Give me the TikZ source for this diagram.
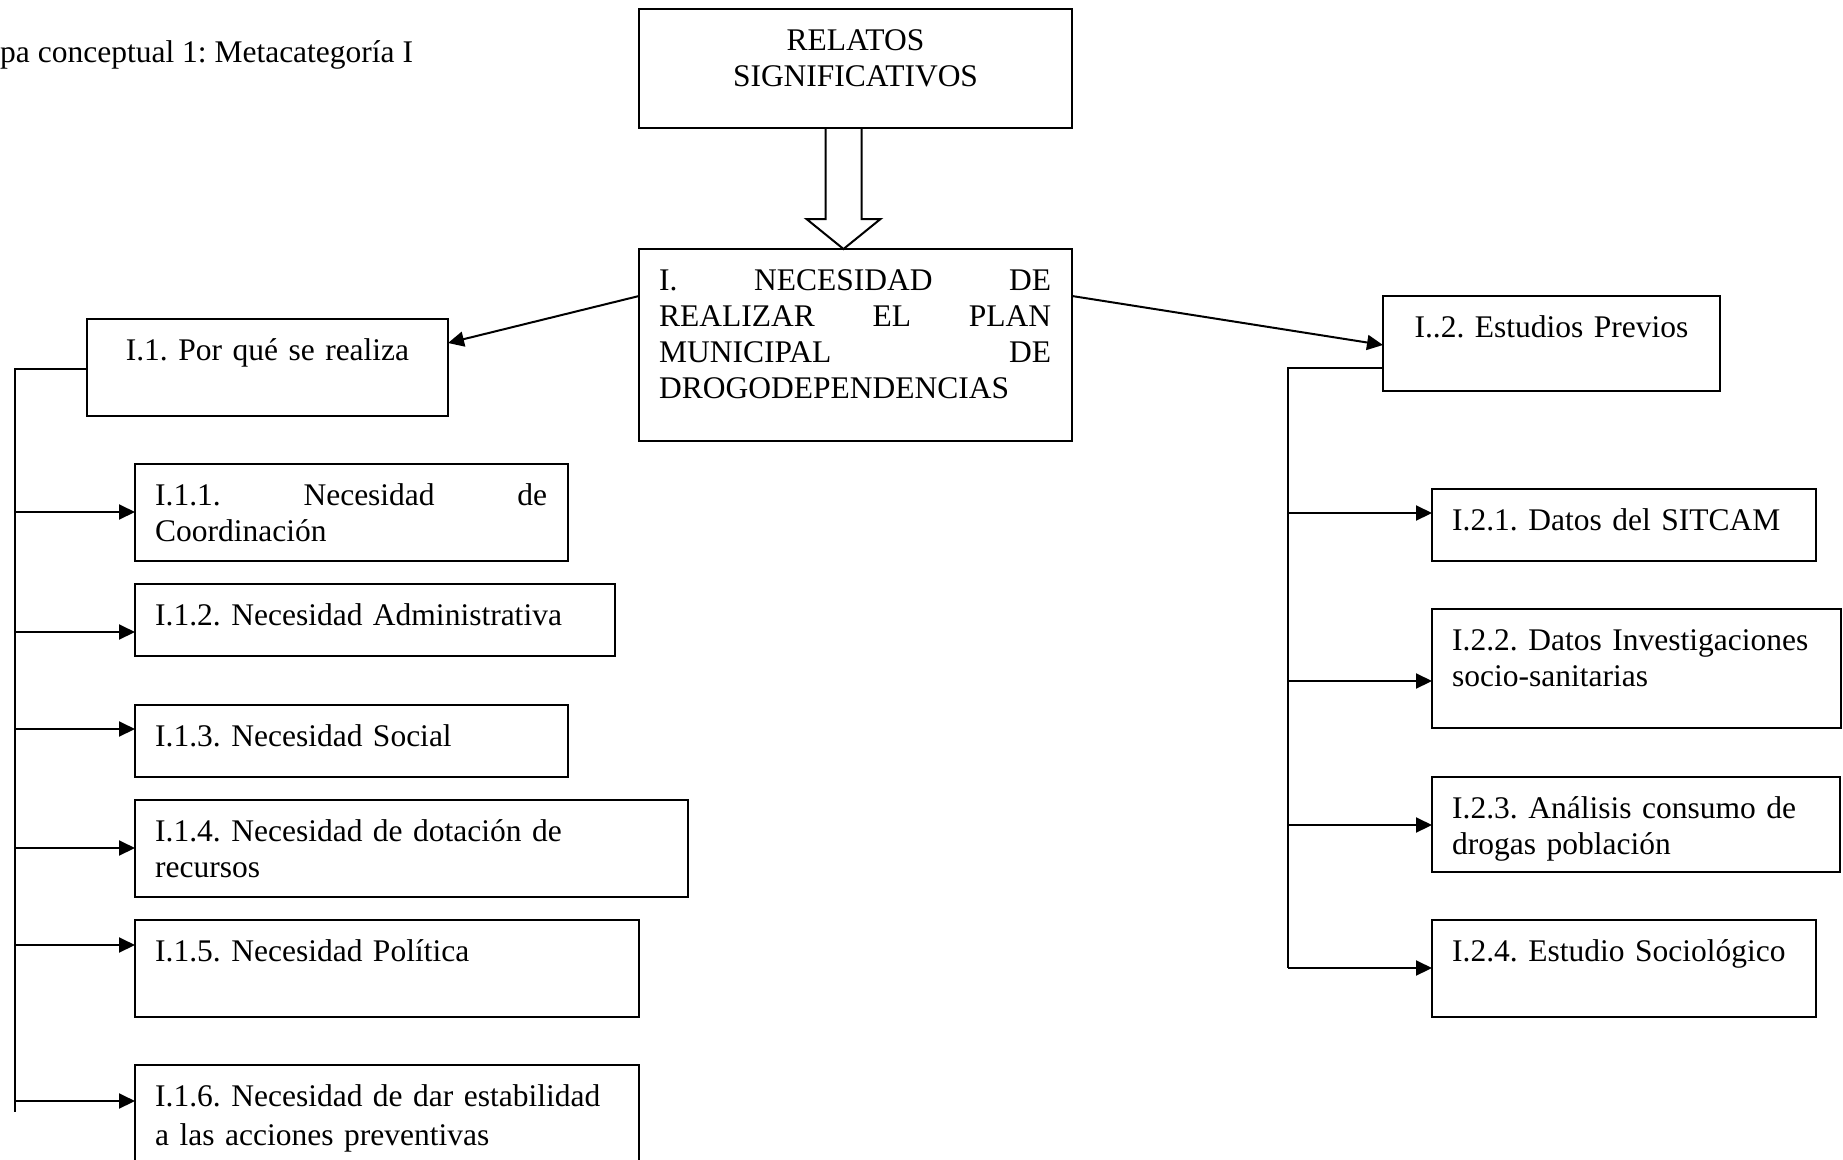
\documentclass[tikz,border=0pt]{standalone}
\usepackage{fontspec}
\setmainfont{Liberation Serif}
\usetikzlibrary{arrows.meta,calc}
\frenchspacing

\begin{document}
\begin{tikzpicture}[x=1pt,y=-1pt,
  box/.style={draw, line width=2pt, anchor=north west, inner sep=0pt, outer sep=0pt},
  txt/.style={anchor=north west, inner sep=0pt, align=left, font=\fontsize{31.5}{36}\selectfont},
  ctxt/.style={anchor=north, inner sep=0pt, align=center, font=\fontsize{31.5}{36}\selectfont},
  link/.style={line width=2pt},
  arr/.style={line width=2pt, -{Triangle[length=16pt,width=15pt]}},
]
\clip (0,0) rectangle (1843,1159);

% caption
\node[anchor=base west, inner sep=0pt, font=\fontsize{31.5}{36}\selectfont] (title) at (0,62) {pa conceptual 1: Metacategoría I};

% top level
\node[box, minimum width=433pt, minimum height=119pt] (rel) at (639,9) {};
\node[ctxt, text width=393pt] (trel) at ($(rel.north)+(0,16)$) {\strut RELATOS\\SIGNIFICATIVOS};

\node[box, minimum width=433pt, minimum height=192pt] (cen) at (639,249) {};
\node[txt, text width=392pt] (tcen) at ($(cen.north west)+(20,16)$)
  {\strut I.\hfill NECESIDAD\hfill DE\\REALIZAR\hfill EL\hfill PLAN\\MUNICIPAL\hfill DE\\DROGODEPENDENCIAS};

% hollow block arrow between the two top boxes
\coordinate (ax) at ($(rel.south)+(-12,0)$);
\draw[link, line join=miter] ($(ax)+(-18,0)$) -- ++(0,91) -- ++(-19,0) -- (ax |- cen.north)
  -- ($(ax)+(37,91)$) -- ++(-19,0) -- ($(ax)+(18,0)$);

% second level
\node[box, minimum width=361pt, minimum height=97pt] (p1) at (87,319) {};
\node[ctxt, text width=340pt] (tp1) at ($(p1.north)+(0,16)$) {\strut I.1. Por qué se realiza};

\node[box, minimum width=337pt, minimum height=95pt] (p2) at (1383,296) {};
\node[ctxt, text width=320pt] (tp2) at ($(p2.north)+(0,16)$) {\strut I..2. Estudios Previos};

\draw[arr] ($(cen.north west)+(0,47)$) -- ($(p1.north east)+(0,24)$);
\draw[arr] ($(cen.north east)+(0,47)$) -- ($(p2.north west)+(0,49)$);

% left branch boxes
\node[box, minimum width=433pt, minimum height=97pt] (p11) at (135,464) {};
\node[txt, text width=392pt] (tp11) at ($(p11.north west)+(20,16)$) {\strut I.1.1.\hfill Necesidad\hfill de\\Coordinación};

\node[box, minimum width=480pt, minimum height=72pt] (p12) at (135,584) {};
\node[txt, text width=440pt] (tp12) at ($(p12.north west)+(20,16)$) {\strut I.1.2. Necesidad Administrativa};

\node[box, minimum width=433pt, minimum height=72pt] (p13) at (135,705) {};
\node[txt, text width=392pt] (tp13) at ($(p13.north west)+(20,16)$) {\strut I.1.3. Necesidad Social};

\node[box, minimum width=553pt, minimum height=97pt] (p14) at (135,800) {};
\node[txt, text width=510pt] (tp14) at ($(p14.north west)+(20,16)$) {\strut I.1.4. Necesidad de dotación de\\recursos};

\node[box, minimum width=504pt, minimum height=97pt] (p15) at (135,920) {};
\node[txt, text width=460pt] (tp15) at ($(p15.north west)+(20,16)$) {\strut I.1.5. Necesidad Política};

\node[box, minimum width=504pt, minimum height=115pt] (p16) at (135,1065) {};
\node[txt, text width=460pt] (tp16) at ($(p16.north west)+(20,16)$) {\strut I.1.6. Necesidad de dar estabilidad\\[3pt]a las acciones preventivas};

% right branch boxes
\node[box, minimum width=384pt, minimum height=72pt] (p21) at (1432,489) {};
\node[txt, text width=350pt] (tp21) at ($(p21.north west)+(20,16)$) {\strut I.2.1. Datos del SITCAM};

\node[box, minimum width=409pt, minimum height=119pt] (p22) at (1432,609) {};
\node[txt, text width=370pt] (tp22) at ($(p22.north west)+(20,16)$) {\strut I.2.2. Datos Investigaciones\\socio-sanitarias};

\node[box, minimum width=408pt, minimum height=95pt] (p23) at (1432,777) {};
\node[txt, text width=370pt] (tp23) at ($(p23.north west)+(20,16)$) {\strut I.2.3. Análisis consumo de\\drogas población};

\node[box, minimum width=384pt, minimum height=97pt] (p24) at (1432,920) {};
\node[txt, text width=350pt] (tp24) at ($(p24.north west)+(20,16)$) {\strut I.2.4. Estudio Sociológico};

% left trunk and its arrows
\coordinate (lt) at (15,369);
\coordinate (lb) at (15,1112);
\draw[link] (p1.west |- lt) -- (lt) -- (lb);
\coordinate (a11) at ($(p11.north west)+(0,48)$);
\coordinate (a12) at ($(p12.north west)+(0,48)$);
\coordinate (a13) at ($(p13.north west)+(0,24)$);
\coordinate (a14) at ($(p14.north west)+(0,48)$);
\coordinate (a15) at ($(p15.north west)+(0,25)$);
\coordinate (a16) at ($(p16.north west)+(0,36)$);
\foreach \a in {a11,a12,a13,a14,a15,a16}
  \draw[arr] (lt |- \a) -- (\a);

% right trunk and its arrows
\coordinate (rt) at (1288,368);
\coordinate (a21) at ($(p21.north west)+(0,24)$);
\coordinate (a22) at ($(p22.north west)+(0,72)$);
\coordinate (a23) at ($(p23.north west)+(0,48)$);
\coordinate (a24) at ($(p24.north west)+(0,48)$);
\draw[link] (p2.west |- rt) -- (rt) -- (rt |- a24);
\foreach \a in {a21,a22,a23}
  \draw[arr] (rt |- \a) -- (\a);
\draw[arr] (rt |- a24) -- (a24);
\end{tikzpicture}
\end{document}
